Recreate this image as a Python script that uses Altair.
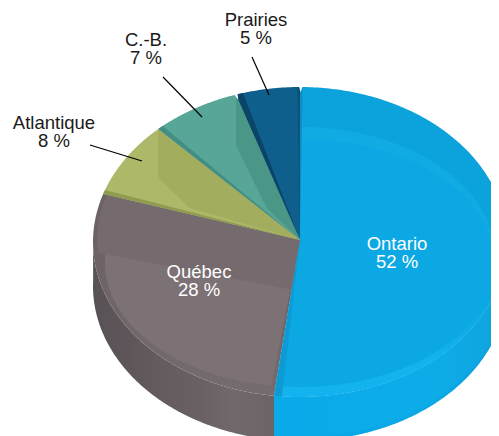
import math
import altair as alt

# ---- chart values ----
regions = ["Ontario", "Québec", "Atlantique", "C.-B.", "Prairies"]
shares = [52, 28, 8, 7, 5]
share_labels = ["52 %", "28 %", "8 %", "7 %", "5 %"]

# ---- geometry and styles ----
CX, CY = 300, 240
RX, RY, RIM_CY = 207, 155, 242
IN_RX, IN_RY, IN_CY = 195, 124, 263
DEPTH = 44
FONT = "Liberation Sans"
X_SCALE = alt.Scale(domain=[8, 491], range=[0, 483], nice=False, zero=False)
Y_SCALE = alt.Scale(domain=[8, 436], range=[0, 428], nice=False, zero=False)

cum = [0]
for s in shares:
    cum.append(cum[-1] + s)
ang = [c / 100 * 360 for c in cum]


def outer(t, dy=0, rx=RX, ry=RY, cy=RIM_CY):
    a = math.radians(t)
    return (CX + rx * math.sin(a), cy + dy - ry * math.cos(a))


def inner_at_x(x):
    u = (x - CX) / IN_RX
    return (x, IN_CY - IN_RY * math.sqrt(max(0, 1 - u * u)))


def arc(t0, t1, **kw):
    n = max(2, int(abs(t1 - t0) * 2))
    return [outer(t0 + (t1 - t0) * i / n, **kw) for i in range(n + 1)]


def wedge(t0, t1, **kw):
    return [(CX, CY)] + arc(t0, t1, **kw)


def side(t0, t1, dy=DEPTH):
    return arc(t0, t1) + arc(t1, t0, dy=dy)


def lerp(p, q, f):
    return (p[0] + (q[0] - p[0]) * f, p[1] + (q[1] - p[1]) * f)


def shape(points, fill, opacity=1):
    rows = [{"i": i, "x": p[0], "y": p[1]} for i, p in enumerate(points + points[:1])]
    return (
        alt.Chart(alt.Data(values=rows))
        .mark_line(filled=True, fill=fill, stroke=None, clip=True, opacity=opacity, interpolate="linear")
        .encode(
            x=alt.X("x:Q", scale=X_SCALE, axis=None),
            y=alt.Y("y:Q", scale=Y_SCALE, axis=None),
            order="i:Q",
        )
    )


def hgrad(stops):
    return alt.Gradient(
        gradient="linear", x1=0, x2=1, y1=0, y2=0,
        stops=[alt.GradientStop(offset=o, color=c) for o, c in stops],
    )


def vgrad(stops):
    return alt.Gradient(
        gradient="linear", x1=0, x2=0, y1=0, y2=1,
        stops=[alt.GradientStop(offset=o, color=c) for o, c in stops],
    )


a_ont, a_que, a_atl, a_cb, a_pr = ang[1], ang[2], ang[3], ang[4], ang[5]
layers = []

# extruded side walls
layers.append(shape(side(a_ont, 272), hgrad([(0, "#585155"), (0.6, "#6a6164"), (0.78, "#72696c"), (1, "#6b6366")])))
layers.append(shape(side(90, a_ont), hgrad([(0, "#0aa6e6"), (0.7, "#0ba8e6"), (1, "#0e9fd8")])))
layers.append(shape(side(90, a_ont, dy=DEPTH - 4), hgrad([(0, "#0aa9e9"), (0.7, "#0dace9"), (1, "#10a3dc")])))

# rims (whole wedge out to the outer ellipse)
layers.append(shape(wedge(a_ont, a_que), vgrad([(0, "#6c6265"), (0.45, "#6e6467"), (1, "#756c6f")])))
layers.append(shape(wedge(a_que, a_atl), "#adb969"))
layers.append(shape(wedge(a_atl, a_cb), "#57a697"))
layers.append(shape(wedge(a_cb, a_pr), "#0f5f8c"))
layers.append(shape(wedge(0, a_ont), vgrad([(0, "#0ca2db"), (0.6, "#0ba4de"), (0.9, "#12b3ef"), (1, "#12b3ef")])))


# dished inner faces
def inner_pts(t0, t1, extra=0):
    return arc(t0, t1, rx=IN_RX, ry=IN_RY + extra, cy=IN_CY - extra)


layers.append(shape([(CX, CY)] + inner_pts(0.6, 120, extra=6), "#11abe4"))
layers.append(shape([(CX, CY)] + inner_pts(0.6, a_ont - 1.2), "#0ba8e3"))
layers.append(shape([(CX, CY)] + inner_pts(a_ont + 1.2, a_que - 1), "#7c7175"))
# darker upper band of the Québec face
layers.append(shape(
    [(CX, CY), lerp((CX, CY), outer(a_ont), 0.32)]
    + arc(266, a_que, rx=RX - 4) + [outer(a_que)],
    "#756b6e",
))

# folds on the two small wedges
for t_end, f, col in [(a_atl, 0.78, "#a3ad5e"), (a_cb, 0.52, "#4a9687")]:
    rim = outer(t_end)
    b = inner_at_x(rim[0])
    c = (CX + (b[0] - CX) * f, 208)
    layers.append(shape([rim, b, c, (CX, CY)], col))


# edge strips between wedges
def strip(t, t_wide, col):
    layers.append(shape([(CX, CY), outer(t), outer(t_wide)], col))


strip(a_que, a_que + 1.6, "#8f9c50")
strip(a_atl, a_atl + 1.6, "#428d84")
strip(a_cb, a_cb + 2.0, "#0a4468")
strip(0.0, 0.7, "#0c8fc4")
strip(a_ont, a_ont - 2.2, "#0e9bd3")
strip(a_pr, a_pr - 0.7, "#0b5078")


# small white notches where wedges part at the rim
def notch(t, w=0.45, depth=0.965):
    a, b = outer(t - w), outer(t + w)
    tip = lerp((CX, CY), outer(t), depth)
    above = outer(t, dy=-3)
    layers.append(shape([a, above, b, tip], "#ffffff"))


notch(a_cb)
notch(0.2)

# leader lines
leaders = alt.Chart(alt.Data(values=[
    {"x": 90, "y": 145, "x2": 142, "y2": 161},
    {"x": 163, "y": 77, "x2": 202, "y2": 117},
    {"x": 252, "y": 57, "x2": 269, "y2": 95},
])).mark_rule(color="#000000", strokeWidth=1.2).encode(
    x=alt.X("x:Q", scale=X_SCALE, axis=None), x2="x2:Q",
    y=alt.Y("y:Q", scale=Y_SCALE, axis=None), y2="y2:Q",
)
layers.append(leaders)

# labels
anchors = {
    "Ontario": (397, 250, "#ffffff"),
    "Québec": (199, 278, "#ffffff"),
    "Atlantique": (54, 129, "#1a1a1a"),
    "C.-B.": (146, 46, "#1a1a1a"),
    "Prairies": (256, 26, "#1a1a1a"),
}
for name, lab in zip(regions, share_labels):
    x, y, col = anchors[name]
    rows = [{"x": x, "y": y, "t": name}, {"x": x, "y": y + 18, "t": lab}]
    layers.append(
        alt.Chart(alt.Data(values=rows))
        .mark_text(font=FONT, fontSize=18.5, color=col, align="center", baseline="alphabetic")
        .encode(
            x=alt.X("x:Q", scale=X_SCALE, axis=None),
            y=alt.Y("y:Q", scale=Y_SCALE, axis=None),
            text="t:N",
        )
    )

chart = (
    alt.layer(*layers)
    .properties(width=483, height=428, padding=0, autosize=alt.AutoSizeParams(type="none"))
    .configure_view(stroke=None)
)
chart.save("out.html", embed_options={"renderer": "svg", "actions": False})
